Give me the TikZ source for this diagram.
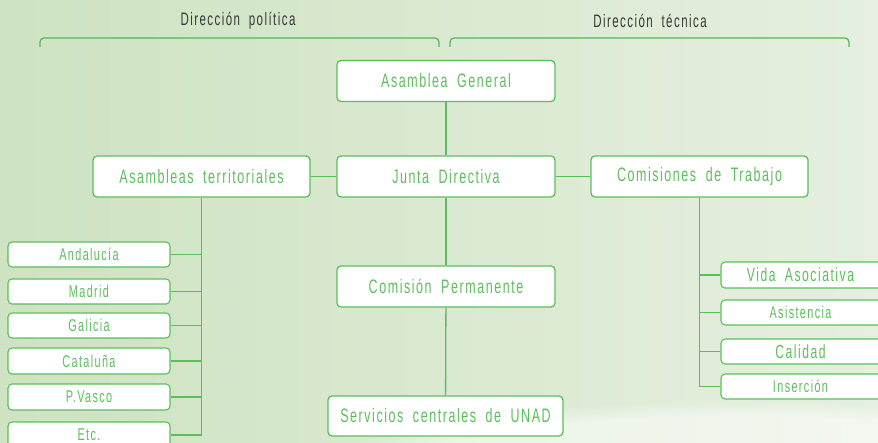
\documentclass[tikz,border=0pt]{standalone}
\usepackage{fontspec}
\setmainfont{Liberation Sans}[FakeStretch=0.64, LetterSpace=8, WordSpace=1.9]
\usetikzlibrary{fadings}
\definecolor{bgL}{HTML}{CDE3C1}
\definecolor{bgR}{HTML}{E6EFE0}
\definecolor{gr}{HTML}{5ABF5A}
\definecolor{grtext}{HTML}{5EBE5E}
\definecolor{darktext}{HTML}{383838}
\tikzset{
  bigbox/.style={draw=gr, line width=1.3pt, fill=white, rounded corners=4pt, inner sep=0pt,
    minimum width=218pt, minimum height=41pt, text=grtext, font=\fontsize{19.5}{21}\selectfont},
  smallbox/.style={draw=gr, line width=1.1pt, fill=white, rounded corners=4pt, inner sep=0pt,
    minimum height=25pt, text=grtext, font=\fontsize{17}{18}\selectfont},
  link/.style={draw=gr, line width=1.3pt},
  toplabel/.style={text=darktext, font=\fontsize{18}{20}\selectfont, inner sep=0pt},
  bracket/.style={draw=gr!95!black, line width=1.2pt, rounded corners=4pt}
}
\begin{document}
\begin{tikzpicture}[x=1pt, y=-1pt]
\useasboundingbox (0,0) rectangle (878,443);
\shade[left color=bgL, right color=bgR] (0,0) rectangle (878,443);
\fill[white, opacity=0.5, path fading=circle with fuzzy edge 20 percent] (740,480) ellipse (440 and 80);

% top labels and brackets
\node[toplabel] (pol) at (238,21) {Dirección política};
\node[toplabel] (tec) at (650,21) {Dirección técnica};
\draw[bracket] (40,47) -- (40,38) -- (439,38) -- (439,47);
\draw[bracket] (450,47) -- (450,38) -- (849,38) -- (849,47);

% main boxes
\node[bigbox] (ag) at (446,81) {Asamblea General};
\node[bigbox] (jd) at (446,176.5) {Junta Directiva};
\node[bigbox, minimum width=217pt] (at) at (201.5,176.5) {Asambleas territoriales};
\node[bigbox, minimum width=217pt] (ct) at (699.5,176.5) {Comisiones de Trabajo};
\node[bigbox] (cp) at (446,286.5) {Comisión Permanente};
\node[bigbox, minimum width=235pt, minimum height=40pt] (sc) at (445.5,416) {Servicios centrales de UNAD};

% left boxes
\node[smallbox, minimum width=162pt] (and) at (89,254.5) {Andalucía};
\node[smallbox, minimum width=162pt] (mad) at (89,291.5) {Madrid};
\node[smallbox, minimum width=162pt] (gal) at (89,325.5) {Galicia};
\node[smallbox, minimum width=162pt, minimum height=26pt] (cat) at (89,361) {Cataluña};
\node[smallbox, minimum width=162pt, minimum height=26pt] (pva) at (89,397) {P.Vasco};
\node[smallbox, minimum width=162pt, minimum height=26pt] (etc) at (89,435) {Etc.};

% right boxes
\node[smallbox, minimum width=169pt, minimum height=26pt, font=\fontsize{19}{20}\selectfont] (vid) at (805.5,275) {\hspace*{-10pt}Vida Asociativa};
\node[smallbox, minimum width=169pt] (asi) at (805.5,312.5) {\hspace*{-10pt}Asistencia};
\node[smallbox, minimum width=169pt, font=\fontsize{19}{20}\selectfont] (cal) at (805.5,351.5) {\hspace*{-10pt}Calidad};
\node[smallbox, minimum width=169pt] (ins) at (805.5,386.5) {\hspace*{-10pt}Inserción};

% connectors
\draw[link] (ag) -- (jd);
\draw[link] (jd) -- (cp);
\draw[link] (cp) -- (sc);
\draw[link] (at) -- (jd);
\draw[link] (jd) -- (ct);
\draw[link] (at.south) -- (at.south |- etc.east) -- (etc.east);
\foreach \n in {and,mad,gal,cat,pva} \draw[link] (\n.east) -- (\n.east -| at.south);
\draw[link] (ct.south) -- (ct.south |- cal.west);
\draw[link, line width=0.9pt] (ct.south |- cal.west) -- (ct.south |- ins.west) -- (ins.west);
\foreach \n in {vid,asi,cal} \draw[link] (\n.west) -- (\n.west -| ct.south);
\end{tikzpicture}
\end{document}
